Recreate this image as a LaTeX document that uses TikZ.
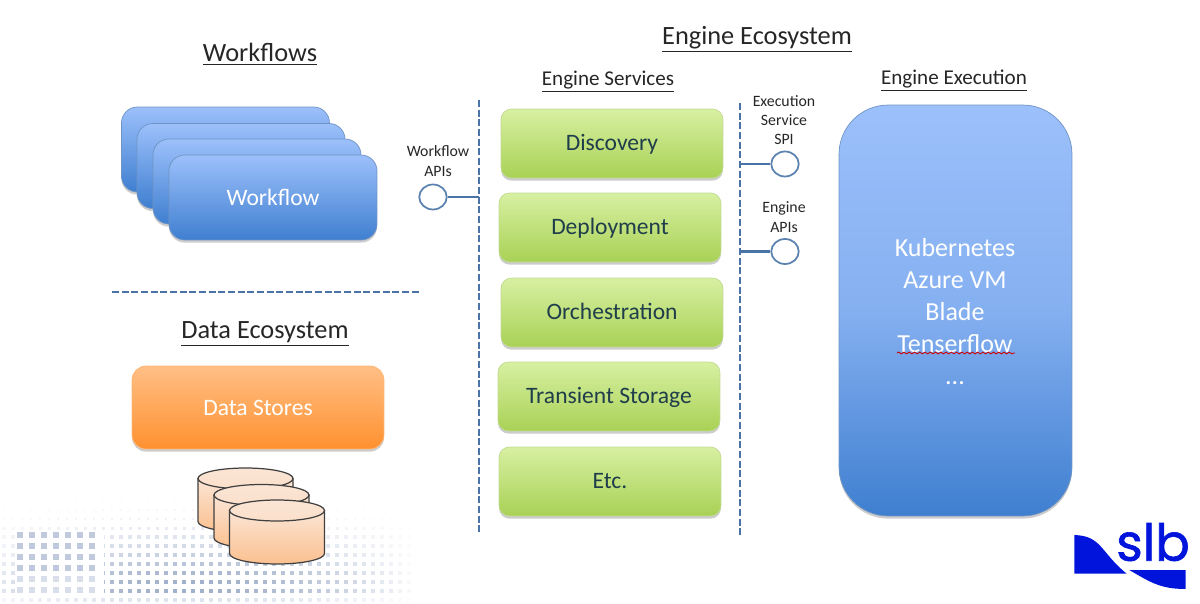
\documentclass[tikz,border=0pt]{standalone}
\usepackage{fontspec}
\setmainfont{Carlito}
\newfontfamily\logofont[FakeBold=1.2]{Poppins}
\usetikzlibrary{shadows,shapes.geometric,decorations.pathmorphing}
\definecolor{linecol}{HTML}{4A74A8}
\definecolor{ringcol}{HTML}{5C82B0}
\definecolor{dotcol}{HTML}{8397BA}
\definecolor{bluetop}{HTML}{9CC0FB}
\definecolor{bluebot}{HTML}{3F7FD0}
\definecolor{blueedge}{HTML}{6F94C4}
\definecolor{greentop}{HTML}{D7F0A2}
\definecolor{greenbot}{HTML}{A9D155}
\definecolor{greenedge}{HTML}{C0DA92}
\definecolor{greentext}{HTML}{1F3D4A}
\definecolor{orangetop}{HTML}{FFBF85}
\definecolor{orangebot}{HTML}{FF9130}
\definecolor{canhigh}{HTML}{FBE5D5}
\definecolor{canlow}{HTML}{FBC08F}
\definecolor{slbblue}{HTML}{0014DC}
\tikzset{
  softshadow/.style={drop shadow={shadow xshift=0pt,shadow yshift=-1.5pt,opacity=.2,fill=black}},
  box/.style={shape=rectangle,inner sep=0pt,softshadow,align=center},
  bluebox/.style={box,draw=blueedge,top color=bluetop,bottom color=bluebot,rounded corners=9pt,
    text=white,font=\fontsize{13.4}{16}\selectfont},
  greenbox/.style={box,draw=greenedge,top color=greentop,bottom color=greenbot,rounded corners=6pt,
    minimum width=4.44cm,minimum height=1.38cm,text=greentext,text height=9pt,text depth=.5pt,
    font=\fontsize{13.4}{16}\selectfont},
  stackbox/.style={bluebox,minimum width=4.16cm,minimum height=1.7cm},
  title/.style={font=\fontsize{15}{17}\selectfont,text=black!85},
  subtitle/.style={font=\fontsize{12}{14}\selectfont,text=black!85},
  smalllabel/.style={font=\fontsize{9}{11}\selectfont,align=center,text=black!85},
  apiring/.style={shape=ellipse,draw=ringcol,fill=white,line width=1pt,minimum width=.55cm,minimum height=.5cm,inner sep=0pt},
  apiline/.style={draw=linecol,line width=1.3pt},
  sepline/.style={draw=linecol,line width=1.4pt,dash pattern=on 4pt off 1.5pt},
  can/.style={draw=black!75,line width=.7pt,top color=canhigh,bottom color=canlow}
}
\begin{document}
\begin{tikzpicture}[x=0.02cm,y=-0.02cm]
\useasboundingbox (0,0) rectangle (1200,604);
% dotted backdrop
\foreach \dx in {4,13,...,430}{
  \foreach \dy in {483,492,...,600}{
    \pgfmathsetmacro{\t}{min(1,(\dy-478)/100)}
    \pgfmathsetmacro{\op}{max(0,min(1,\t*\t*.75*(1-((\dx-190)/228)*((\dx-190)/228))))*(\dy>595?.35:1)}
    \pgfmathsetmacro{\sz}{.6+1.8*\t}
    \fill[dotcol,opacity=\op] (\dx-\sz,\dy-\sz) rectangle (\dx+\sz,\dy+\sz);
  }
}
\fill[white] (15,533) rectangle (104,596);
\foreach \dx in {20,32,...,100}{
  \foreach \dy in {535,546,...,590}{
    \pgfmathsetmacro{\op}{\dy>575?.3:.5}
    \fill[dotcol,opacity=\op] (\dx-3,\dy-3) rectangle (\dx+3,\dy+3);
  }
}

\node[title] (wftitle) at (260,54.5) {\underline{Workflows}};
\node[title] (ectitle) at (757,39) {\underline{Engine Ecosystem}};
\node[title] (datatitle) at (265,334) {\underline{Data Ecosystem}};
\node[subtitle] (svctitle) at (608,82) {\underline{Engine Services}};
\node[subtitle] (exetitle) at (954,81) {\underline{Engine Execution}};

% workflow stack
\node[stackbox] (wf1) at (225.5,149.5) {};
\node[stackbox] (wf2) at (241,166) {};
\node[stackbox] (wf3) at (257,181.5) {};
\node[stackbox] (wf4) at (273,197.5) {Workflow};

\coordinate (sepa) at (112,292);
\coordinate (sepb) at (420,292);
\draw[sepline] (sepa) -- (sepb);

% data
\node[box,draw=orangetop!80!orangebot,top color=orangetop,bottom color=orangebot,rounded corners=8pt,
  minimum width=5.04cm,minimum height=1.66cm,text=white,font=\fontsize{13.4}{15}\selectfont] (stores) at (258,407.5) {Data Stores};
\foreach \cx/\cy in {245.5/478.5,261.5/495,277/510.5}{
  \draw[can] (\cx-47.5,\cy) -- (\cx-47.5,\cy+43) arc[start angle=180,end angle=0,x radius=47.5,y radius=10.5]
    -- (\cx+47.5,\cy) -- cycle;
  \draw[can,top color=canhigh,bottom color=canhigh!85!canlow] (\cx,\cy) circle[x radius=47.5,y radius=10.5];
}

% services
\node[greenbox] (disc) at (612,143.5) {Discovery};
\node[greenbox] (depl) at (610,227.5) {Deployment};
\node[greenbox] (orch) at (612,312.5) {Orchestration};
\node[greenbox] (tran) at (609,396.5) {Transient Storage};
\node[greenbox] (etc) at (610,481.5) {Etc.};

% separators
\coordinate (wfa) at (479,100);
\coordinate (wfb) at (479,532);
\coordinate (exa) at (740,103);
\coordinate (exb) at (740,536);
\draw[sepline] (wfa) -- (wfb);
\draw[sepline] (exa) -- (exb);

% interfaces
\node[apiring] (wfapi) at (433,197) {};
\node[apiring] (spi) at (785,164) {};
\node[apiring] (eapi) at (785,251.5) {};
\coordinate (wfjoin) at (479,197);
\coordinate (spijoin) at (740,164);
\coordinate (eapijoin) at (740,251.5);
\draw[apiline] (wfapi) -- (wfjoin);
\draw[apiline] (spi) -- (spijoin);
\draw[apiline] (eapi) -- (eapijoin);
\node[smalllabel] (wflabel) at (438,161) {Workflow\\APIs};
\node[smalllabel] (spilabel) at (784,120) {Execution\\Service\\SPI};
\node[smalllabel] (eapilabel) at (784,217) {Engine\\APIs};

% execution
\node[box,draw=blueedge,top color=bluetop,bottom color=bluebot,middle color=bluetop!75!bluebot,rounded corners=28pt,
  minimum width=4.66cm,minimum height=8.22cm] (exec) at (955.5,310.5) {};
\node[text=white,font=\fontsize{14.8}{18.2}\selectfont,align=center,anchor=north] (execlist) at (955,232)
  {Kubernetes\\Azure VM\\Blade\\Tenserflow\\...};
\coordinate (wavea) at (897,353);
\coordinate (waveb) at (1015,353);
\draw[red!80!black,line width=.5pt,decorate,decoration={snake,amplitude=.5pt,segment length=3pt}] (wavea) -- (waveb);

% logo
\fill[slbblue] (1074.3,535) .. controls (1102,536) and (1100,552) .. (1126.7,573.7) -- (1074.3,573.7) -- cycle;
\fill[slbblue] (1129.3,570) -- (1185.7,570) -- (1185.7,589) .. controls (1160,589) and (1150,582) .. cycle;
\node[text=slbblue,font=\logofont\fontsize{29}{30}\selectfont,anchor=base,inner sep=0pt] (logo) at (1153,560.7) {slb};
\end{tikzpicture}
\end{document}
